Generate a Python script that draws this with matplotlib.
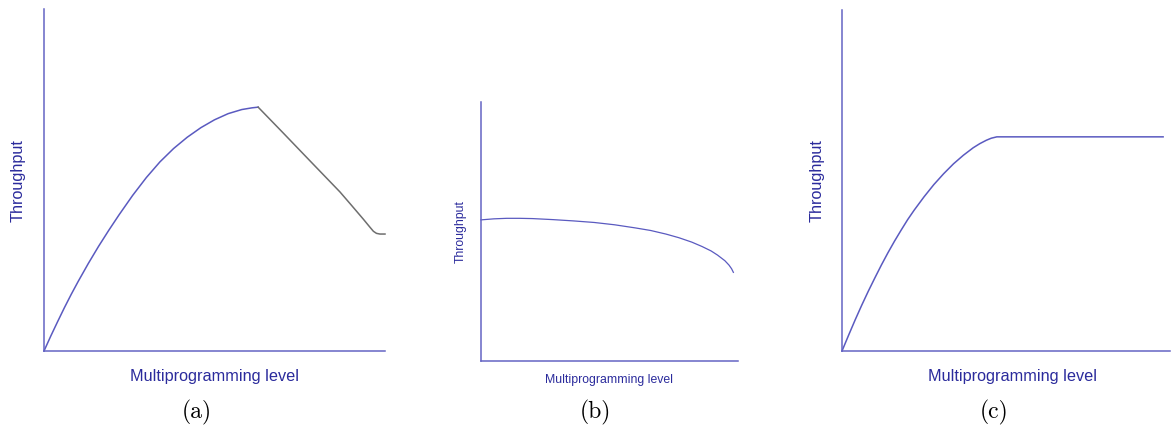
import matplotlib.pyplot as plt

# three sketches of throughput vs multiprogramming level
# x and y are in percent of each axis length

# (a) rises to a peak, then thrashing makes it fall
a_rise_x = [0, 2, 4, 6, 8, 10, 13, 16, 19, 22, 26, 30, 34, 38, 42, 46, 50, 54, 58, 61, 62.8]
a_rise_y = [0, 4.4, 8.6, 12.7, 16.6, 20.3, 25.6, 30.6, 35.3, 39.8, 45.5, 50.7, 55.3,
            59.2, 62.5, 65.3, 67.6, 69.4, 70.6, 71.1, 71.3]
a_fall_x = [62.8, 70, 78, 86.8, 90, 93.6, 95.5, 96.6, 97.5, 98.5, 100]
a_fall_y = [71.3, 63.9, 55.6, 46.5, 42.8, 38.6, 36.3, 35.0, 34.4, 34.2, 34.2]

# (b) nearly flat, drops off at the end
b_x = [0, 5, 10, 15, 20, 28, 36, 44, 52, 60, 66, 72, 77, 82, 86, 89.5, 92, 94.9, 96.5, 97.5, 98.2]
b_y = [54.4, 54.8, 55.0, 55.0, 54.9, 54.5, 54.0, 53.4, 52.5, 51.3, 50.3, 48.9, 47.5,
       45.8, 44.1, 42.4, 40.8, 38.6, 36.9, 35.5, 34.1]

# (c) rises then saturates
c_x = [0, 2, 4, 6, 8, 10, 12, 14, 16, 18, 20, 22, 25, 28, 31, 34, 37, 40, 42, 44, 45.5, 47.2, 97.9]
c_y = [0, 4.6, 9.1, 13.4, 17.5, 21.4, 25.2, 28.8, 32.2, 35.4, 38.5, 41.3, 45.2, 48.8,
       52.0, 54.9, 57.4, 59.6, 60.8, 61.8, 62.4, 62.8, 62.8]

captions = ["(a)", "(b)", "(c)"]
xlabel = "Multiprogramming level"
ylabel = "Throughput"

axis_col = "#6464c4"
curve_col = "#5a5ac0"
text_col = "#2b2b9c"
fall_col = "#6e6e6e"

W, H = 1172, 427
fig = plt.figure(figsize=(W / 100, H / 100), dpi=100)


def make_axes(left, top, right, bottom):
    ax = fig.add_axes([left / W, 1 - bottom / H, (right - left) / W, (bottom - top) / H])
    ax.set_xlim(0, 100)
    ax.set_ylim(0, 100)
    for s in ["top", "right"]:
        ax.spines[s].set_visible(False)
    for s in ["left", "bottom"]:
        ax.spines[s].set_color(axis_col)
        ax.spines[s].set_linewidth(1.1)
    ax.set_xticks([])
    ax.set_yticks([])
    return ax


ax_a = make_axes(44, 10, 385, 352)
ax_a.plot(a_rise_x, a_rise_y, color=curve_col, lw=1.1, solid_joinstyle="round", clip_on=False)
ax_a.plot(a_fall_x, a_fall_y, color=fall_col, lw=1.1, solid_joinstyle="round", clip_on=False)

ax_b = make_axes(481, 103, 738, 361.5)
ax_b.plot(b_x, b_y, color=curve_col, lw=0.9, solid_joinstyle="round", clip_on=False)

ax_c = make_axes(842, 11, 1170, 352)
ax_c.plot(c_x, c_y, color=curve_col, lw=1.1, solid_joinstyle="round", clip_on=False)

# axis titles, placed in pixel positions
def ftext(x, y, s, **kw):
    fig.text(x / W, 1 - y / H, s, ha="center", va="center", **kw)


sans = "Liberation Sans"
ftext(214, 377, xlabel, color=text_col, fontsize=11.7, family=sans)
ftext(18, 181, ylabel, color=text_col, fontsize=11.7, family=sans, rotation=90)
ftext(609, 380, xlabel, color=text_col, fontsize=8.8, family=sans)
ftext(461, 232, ylabel, color=text_col, fontsize=8.8, family=sans, rotation=90)
ftext(1012, 377, xlabel, color=text_col, fontsize=11.7, family=sans)
ftext(817, 181, ylabel, color=text_col, fontsize=11.7, family=sans, rotation=90)

for cx, cap in zip([197, 595, 994], captions):
    ftext(cx, 412, cap, color="black", fontsize=17, family="cmr10")

fig.savefig("out.png", dpi=100)
